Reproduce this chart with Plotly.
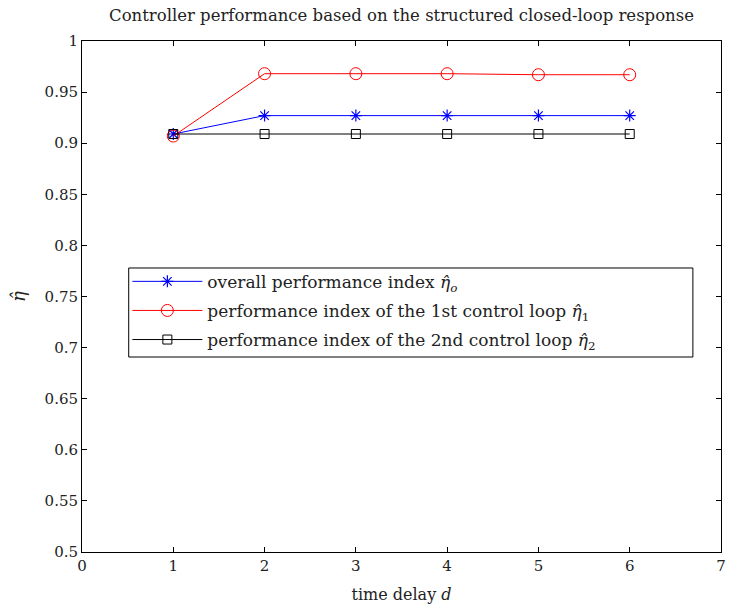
import plotly.graph_objects as go

d = [1, 2, 3, 4, 5, 6]
eta_overall = [0.909, 0.927, 0.927, 0.927, 0.927, 0.927]
eta_loop1 = [0.907, 0.968, 0.968, 0.968, 0.967, 0.967]
eta_loop2 = [0.909, 0.909, 0.909, 0.909, 0.909, 0.909]

x_ticks = [0, 1, 2, 3, 4, 5, 6, 7]
y_ticks = [0.5, 0.55, 0.6, 0.65, 0.7, 0.75, 0.8, 0.85, 0.9, 0.95, 1.0]
y_labels = ["0.5", "0.55", "0.6", "0.65", "0.7", "0.75", "0.8", "0.85", "0.9", "0.95", "1"]

FONT = "DejaVu Serif"
TXT = "#222"

fig = go.Figure()
fig.add_trace(go.Scatter(
    x=d, y=eta_overall, mode="lines+markers", legendgroup="a",
    name="overall performance index <i>η̂<sub>o</sub></i>",
    line=dict(color="#0000ff", width=1),
    marker=dict(symbol="asterisk-open", size=10, color="#0000ff", line=dict(color="#0000ff", width=1.2)),
))
fig.add_trace(go.Scatter(
    x=d, y=eta_loop1, mode="lines+markers", legendgroup="b",
    name="performance index of the 1st control loop <i>η̂</i><sub>1</sub>",
    line=dict(color="#ff0000", width=1),
    marker=dict(symbol="circle-open", size=12, color="#ff0000", line=dict(color="#ff0000", width=1)),
))
fig.add_trace(go.Scatter(
    x=d, y=eta_loop2, mode="lines+markers", legendgroup="c",
    name="performance index of the 2nd control loop <i>η̂</i><sub>2</sub>",
    line=dict(color="#000000", width=1),
    marker=dict(symbol="square-open", size=9, color="#000000", line=dict(color="#000000", width=1)),
))

axis_common = dict(
    showgrid=False, zeroline=False, showline=True, linecolor="black", linewidth=1,
    mirror="ticks", ticks="inside", ticklen=5, tickcolor="black",
    tickfont=dict(family=FONT, size=15, color=TXT),
)

fig.update_layout(
    width=731, height=612,
    margin=dict(l=82, r=5, t=41, b=60),
    paper_bgcolor="white", plot_bgcolor="white",
    font=dict(family=FONT, size=14, color="black"),
    title=dict(text="Controller performance based on the structured closed-loop response",
               x=0.5, xref="paper", xanchor="center", y=0.985, yanchor="top",
               font=dict(family=FONT, size=16.5, color=TXT)),
    xaxis=dict(range=[0, 7], tickvals=x_ticks,
               title=dict(text="time delay <i>d</i>", font=dict(family=FONT, size=16, color=TXT), standoff=14),
               **axis_common),
    yaxis=dict(range=[0.5, 1.0], tickvals=y_ticks, ticktext=y_labels,
               title=dict(text="<i>η̂</i>", font=dict(family=FONT, size=18, color=TXT), standoff=14),
               **axis_common),
    legend=dict(x=0.071, y=0.564, xanchor="left", yanchor="top",
                bgcolor="rgba(0,0,0,0)", borderwidth=0,
                font=dict(family=FONT, size=17, color=TXT),
                tracegroupgap=4, itemwidth=70),
    shapes=[dict(type="rect", xref="paper", yref="paper",
                 x0=0.0731, x1=0.956, y0=0.3816, y1=0.5558,
                 line=dict(color="black", width=1), fillcolor="white", layer="above")],
    showlegend=True,
)

fig.write_html("out.html")
